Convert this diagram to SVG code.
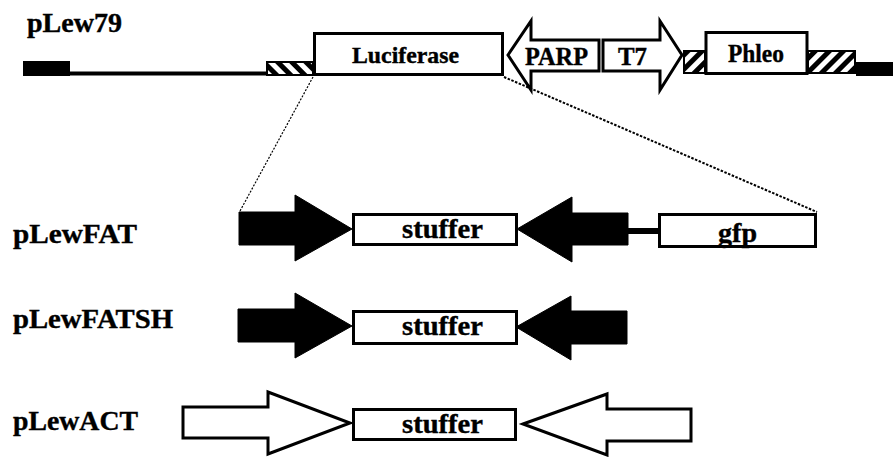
<svg xmlns="http://www.w3.org/2000/svg" width="893" height="457" viewBox="0 0 893 457">
<style>
text{font-family:"Liberation Serif","Times New Roman",serif;font-weight:bold;fill:#000;stroke:#000;stroke-width:0.4}
.lbl{font-size:28px}
.in{font-size:26px}
.box{fill:#fff;stroke:#000;stroke-width:3}
.solid{fill:#000;stroke:#000;stroke-width:1}
.open{fill:#fff;stroke:#000;stroke-width:3;stroke-linejoin:miter}
.hl{stroke:#000;stroke-width:2}
</style>
<defs>
<pattern id="hatchL" patternUnits="userSpaceOnUse" width="10" height="10" patternTransform="rotate(-45)">
<rect width="10" height="10" fill="#fff"/><rect width="5" height="10" fill="#000"/>
</pattern>
<pattern id="hatchR" patternUnits="userSpaceOnUse" width="10" height="10" patternTransform="rotate(45)">
<rect width="10" height="10" fill="#fff"/><rect width="5" height="10" fill="#000"/>
</pattern>
</defs>

<g id="labels">
<text class="lbl" x="27" y="32" textLength="95" lengthAdjust="spacingAndGlyphs">pLew79</text>
<text class="lbl" x="13" y="243" textLength="124" lengthAdjust="spacingAndGlyphs">pLewFAT</text>
<text class="lbl" x="13" y="328" textLength="160" lengthAdjust="spacingAndGlyphs">pLewFATSH</text>
<text class="lbl" x="13" y="430" textLength="125" lengthAdjust="spacingAndGlyphs">pLewACT</text>
</g>

<g id="pLew79">
<rect x="23" y="61" width="47" height="15" fill="#000"/>
<line x1="70" y1="73.5" x2="266" y2="73.5" stroke="#000" stroke-width="4"/>
<rect class="hl" x="267" y="62" width="46" height="13" fill="url(#hatchL)"/>
<g id="luciferase">
<rect class="box" x="314.5" y="33.5" width="188" height="41"/>
<text class="in" x="352" y="63" style="font-size:24px" textLength="107" lengthAdjust="spacingAndGlyphs">Luciferase</text>
</g>
<g id="parp">
<polygon class="open" points="508,55 531,21 531,40 599,40 599,71 531,71 531,90"/>
<text class="in" x="525" y="65" textLength="63" lengthAdjust="spacingAndGlyphs">PARP</text>
</g>
<g id="t7">
<polygon class="open" points="603,40 660,40 660,21 682,55 660,90 660,71 603,71"/>
<text class="in" x="618" y="65" textLength="29" lengthAdjust="spacingAndGlyphs">T7</text>
</g>
<rect class="hl" x="684" y="51" width="21" height="22" fill="url(#hatchR)"/>
<g id="phleo">
<rect class="box" x="706" y="32.5" width="101" height="41"/>
<text class="in" x="728" y="62" textLength="56" lengthAdjust="spacingAndGlyphs">Phleo</text>
</g>
<rect class="hl" x="808" y="51" width="47" height="22" fill="url(#hatchR)"/>
<rect x="856" y="62" width="37" height="14" fill="#000"/>
</g>

<g id="connectors">
<line x1="313" y1="77" x2="240" y2="211" stroke="#000" stroke-width="1.2" stroke-dasharray="2,1.5"/>
<line x1="504" y1="77" x2="817" y2="212" stroke="#000" stroke-width="2" stroke-dasharray="2.5,1.5"/>
</g>

<g id="pLewFAT">
<polygon class="solid" points="239,212 295,212 295,195 352,229 295,261 295,245 239,245"/>
<rect class="box" x="353.5" y="214.5" width="163" height="30"/>
<text class="lbl" x="402" y="238" textLength="81" lengthAdjust="spacingAndGlyphs">stuffer</text>
<polygon class="solid" points="517,229 572,197 572,213 628,213 628,245 572,245 572,262"/>
<line x1="628" y1="231" x2="658" y2="231" stroke="#000" stroke-width="6"/>
<rect class="box" x="659.5" y="214.5" width="156" height="32"/>
<text class="lbl" x="718" y="242" textLength="39" lengthAdjust="spacingAndGlyphs">gfp</text>
</g>

<g id="pLewFATSH">
<polygon class="solid" points="238,309 295,309 295,293 352,326 295,358 295,342 238,342"/>
<rect class="box" x="353.5" y="311.5" width="163" height="32"/>
<text class="lbl" x="402" y="335" textLength="81" lengthAdjust="spacingAndGlyphs">stuffer</text>
<polygon class="solid" points="516,327 571,296 571,311 627,311 627,344 571,344 571,360"/>
</g>

<g id="pLewACT">
<polygon class="open" points="183,407 268,407 268,392 350,423 268,454 268,438 183,438"/>
<rect class="box" x="353.5" y="409.5" width="162" height="30"/>
<text class="lbl" x="402" y="433" textLength="81" lengthAdjust="spacingAndGlyphs">stuffer</text>
<polygon class="open" points="523,424 607,394 607,409 691,409 691,441 607,441 607,455"/>
</g>
</svg>
